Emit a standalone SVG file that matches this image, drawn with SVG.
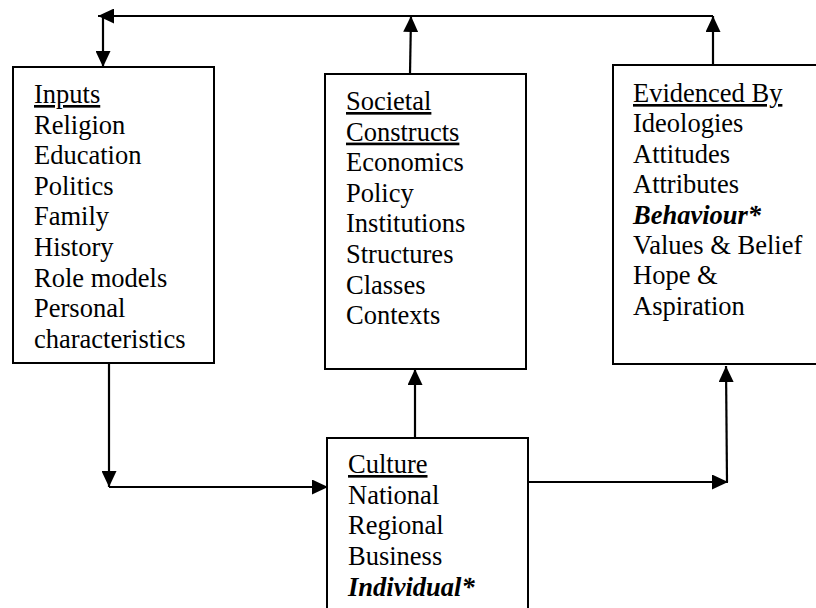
<svg xmlns="http://www.w3.org/2000/svg" width="816" height="608" viewBox="0 0 816 608">
<style>
.box{fill:#fff;stroke:#000;stroke-width:2}
.ln{fill:none;stroke:#000;stroke-width:2.2}
.t{font-family:'Liberation Serif','DejaVu Serif',serif;font-size:26.5px;fill:#000}
.u{text-decoration:underline}
.bi{font-weight:bold;font-style:italic}
</style>
<defs>
<marker id="ah" markerWidth="16" markerHeight="15" refX="16" refY="7.5" orient="auto" markerUnits="userSpaceOnUse">
<path d="M0,0 L16,7.5 L0,15 Z" fill="#000"/>
</marker>
</defs>
<rect width="816" height="608" fill="#fff"/>
<g id="connectors">
<path class="ln" d="M713,16 L98,16" marker-end="url(#ah)"/>
<path class="ln" d="M103,16 L103,67" marker-end="url(#ah)"/>
<path class="ln" d="M410,74 L411,16" marker-end="url(#ah)"/>
<path class="ln" d="M713,65 L713,16" marker-end="url(#ah)"/>
<path class="ln" d="M109,364 L109,487" marker-end="url(#ah)"/>
<path class="ln" d="M109,487 L328,487" marker-end="url(#ah)"/>
<path class="ln" d="M415,438 L415,369" marker-end="url(#ah)"/>
<path class="ln" d="M528,482 L728,482" marker-end="url(#ah)"/>
<path class="ln" d="M727,482 L726,366" marker-end="url(#ah)"/>
</g>
<g id="inputs" class="t" font-family="Liberation Serif, serif">
<rect class="box" x="13" y="67" width="201" height="296"/>
<text x="34" y="103" class="u">Inputs</text>
<text x="34" y="133.6">Religion</text>
<text x="34" y="164.2">Education</text>
<text x="34" y="194.8">Politics</text>
<text x="34" y="225.4">Family</text>
<text x="34" y="256">History</text>
<text x="34" y="286.6">Role models</text>
<text x="34" y="317.2">Personal</text>
<text x="34" y="347.8">characteristics</text>
</g>
<g id="societal" class="t" font-family="Liberation Serif, serif">
<rect class="box" x="325" y="74" width="201" height="295"/>
<text x="346" y="110" class="u">Societal</text>
<text x="346" y="140.6" class="u">Constructs</text>
<text x="346" y="171.2">Economics</text>
<text x="346" y="201.8">Policy</text>
<text x="346" y="232.4">Institutions</text>
<text x="346" y="263">Structures</text>
<text x="346" y="293.6">Classes</text>
<text x="346" y="324.2">Contexts</text>
</g>
<g id="evidenced" class="t" font-family="Liberation Serif, serif">
<rect class="box" x="613" y="65" width="220" height="299"/>
<text x="633" y="102" class="u">Evidenced By</text>
<text x="633" y="132.4">Ideologies</text>
<text x="633" y="162.8">Attitudes</text>
<text x="633" y="193.2">Attributes</text>
<text x="633" y="223.6" class="bi">Behaviour*</text>
<text x="633" y="254">Values &amp; Belief</text>
<text x="633" y="284.4">Hope &amp;</text>
<text x="633" y="314.8">Aspiration</text>
</g>
<g id="culture" class="t" font-family="Liberation Serif, serif">
<rect class="box" x="327" y="438" width="201" height="190"/>
<text x="348" y="473" class="u">Culture</text>
<text x="348" y="503.7">National</text>
<text x="348" y="534.4">Regional</text>
<text x="348" y="565.1">Business</text>
<text x="348" y="595.8" class="bi">Individual*</text>
</g>
</svg>
